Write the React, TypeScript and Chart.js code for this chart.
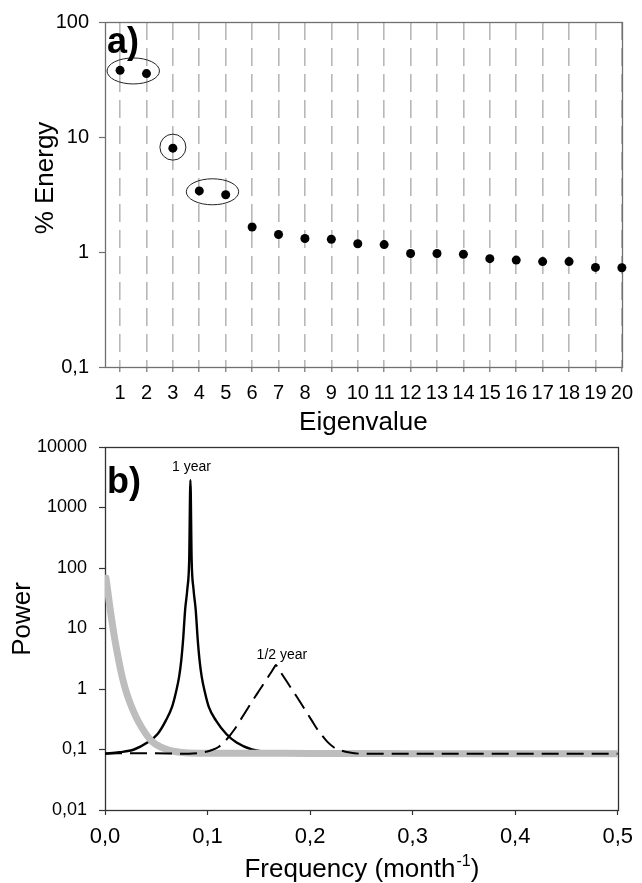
import React, { useEffect, useRef } from "react";
import { Chart, registerables } from "chart.js";

Chart.register(...registerables);

const FONT = "'Liberation Sans', Arial, Helvetica, sans-serif";

// ---------- panel a) ----------
const eigenvalueNumbers = [1, 2, 3, 4, 5, 6, 7, 8, 9, 10, 11, 12, 13, 14, 15, 16, 17, 18, 19, 20];
const energyPercent = [38, 35.6, 8.0, 3.4, 3.15, 1.65, 1.42, 1.31, 1.29, 1.18, 1.16, 0.97, 0.97, 0.955, 0.875, 0.85, 0.825, 0.825, 0.735, 0.73];
const energyTicks = [0.1, 1, 10, 100];
const circledGroups = [[1, 2], [3, 3], [4, 5]];

// ---------- panel b) ----------
const frequencyTicks = [0, 0.1, 0.2, 0.3, 0.4, 0.5];
const powerTicks = [0.01, 0.1, 1, 10, 100, 1000, 10000];

const annualFreq = [0, 0.014, 0.0283, 0.0413, 0.0513, 0.0593, 0.0653, 0.0693, 0.0723, 0.0744, 0.0763, 0.0781, 0.0803, 0.0821, 0.0833, 0.0845, 0.0863, 0.0885, 0.0903, 0.0922, 0.0943, 0.0973, 0.1013, 0.1083, 0.1183, 0.1283, 0.1433, 0.17, 0.25, 0.5];
const annualPower = [0.085, 0.09, 0.1, 0.13, 0.18, 0.3, 0.5, 0.9, 1.6, 3, 7, 20, 45, 135, 2850, 135, 45, 20, 7, 3, 1.6, 0.9, 0.5, 0.3, 0.18, 0.13, 0.1, 0.088, 0.086, 0.086];

const semiannualFreq = [0, 0.04, 0.0817, 0.0947, 0.1037, 0.1107, 0.1167, 0.1217, 0.1267, 0.1317, 0.1367, 0.1417, 0.1467, 0.1507, 0.1547, 0.1587, 0.1627, 0.1652, 0.1667, 0.1682, 0.1707, 0.1747, 0.1787, 0.1827, 0.1867, 0.1917, 0.1967, 0.2017, 0.2067, 0.2117, 0.2167, 0.2227, 0.2297, 0.2387, 0.2517, 0.35, 0.5];
const semiannualPower = [0.086, 0.087, 0.085, 0.089, 0.097, 0.11, 0.135, 0.17, 0.22, 0.3, 0.41, 0.56, 0.76, 0.96, 1.22, 1.55, 1.97, 2.3, 2.5, 2.3, 1.97, 1.55, 1.22, 0.96, 0.76, 0.56, 0.41, 0.3, 0.22, 0.17, 0.135, 0.11, 0.097, 0.089, 0.085, 0.085, 0.085];

const redNoiseFreq = [0.001, 0.003, 0.005, 0.0075, 0.01, 0.013, 0.016, 0.0195, 0.0235, 0.028, 0.033, 0.039, 0.046, 0.054, 0.063, 0.073, 0.09, 0.15, 0.2, 0.25, 0.3, 0.4, 0.5];
const redNoisePower = [68, 38, 21, 11, 6, 3.2, 1.8, 1.05, 0.65, 0.42, 0.28, 0.19, 0.135, 0.11, 0.097, 0.09, 0.087, 0.087, 0.086, 0.086, 0.085, 0.085, 0.085];

const peakLabels = [
  { text: "1 year", freq: 1 / 12, power: 2850, dx: 1, dy: -13 },
  { text: "1/2 year", freq: 1 / 6, power: 2.5, dx: 6, dy: -10 },
];

const commaNum = (v: number) => String(v).replace(".", ",");
const toPoints = (xs: number[], ys: number[]) => xs.map((x, i) => ({ x, y: ys[i] }));

function boxPlugin(color: string) {
  return {
    id: "box",
    beforeDatasetsDraw(chart: any) {
      const { ctx, chartArea: a } = chart;
      ctx.save();
      ctx.strokeStyle = color;
      ctx.lineWidth = 1.3;
      ctx.strokeRect(Math.round(a.left) + 0.5, Math.round(a.top) + 0.5, Math.round(a.right - a.left), Math.round(a.bottom - a.top));
      ctx.restore();
    },
  };
}

function rotatedText(ctx: CanvasRenderingContext2D, text: string, x: number, y: number, font: string) {
  ctx.save();
  ctx.translate(x, y);
  ctx.rotate(-Math.PI / 2);
  ctx.font = font;
  ctx.textAlign = "center";
  ctx.textBaseline = "alphabetic";
  ctx.fillStyle = "#000";
  ctx.fillText(text, 0, 0);
  ctx.restore();
}

export default function App() {
  const topRef = useRef<HTMLCanvasElement>(null);
  const botRef = useRef<HTMLCanvasElement>(null);

  useEffect(() => {
    const topDecor = {
      id: "topDecor",
      afterDatasetsDraw(chart: any) {
        const { ctx, scales } = chart;
        const xs = scales.x;
        const ys = scales.y;
        ctx.save();
        ctx.strokeStyle = "#222";
        ctx.lineWidth = 1;
        circledGroups.forEach(([from, to]) => {
          const i0 = eigenvalueNumbers.indexOf(from);
          const i1 = eigenvalueNumbers.indexOf(to);
          const x0 = xs.getPixelForValue(eigenvalueNumbers[i0]);
          const x1 = xs.getPixelForValue(eigenvalueNumbers[i1]);
          const y0 = ys.getPixelForValue(energyPercent[i0]);
          const y1 = ys.getPixelForValue(energyPercent[i1]);
          const cx = (x0 + x1) / 2;
          const cy = (y0 + y1) / 2 - 1;
          const rx = (x1 - x0) / 2 + 13;
          const ry = 13;
          ctx.beginPath();
          ctx.ellipse(cx, cy, rx, ry, 0, 0, Math.PI * 2);
          ctx.stroke();
        });
        ctx.restore();
      },
      afterDraw(chart: any) {
        const { ctx, chartArea: a } = chart;
        ctx.save();
        ctx.fillStyle = "#000";
        ctx.font = `bold 36px ${FONT}`;
        ctx.textAlign = "left";
        ctx.textBaseline = "alphabetic";
        ctx.fillText("a)", a.left + 2, 53);
        ctx.font = `26px ${FONT}`;
        ctx.textAlign = "center";
        ctx.fillText("Eigenvalue", (a.left + a.right) / 2, 430);
        ctx.restore();
        rotatedText(ctx, "% Energy", 53, 178, `26px ${FONT}`);
      },
    };

    const c1 = new Chart(topRef.current!, {
      type: "scatter",
      data: {
        datasets: [
          {
            data: toPoints(eigenvalueNumbers, energyPercent),
            showLine: false,
            pointRadius: 4.5,
            pointHoverRadius: 4.5,
            pointBackgroundColor: "#000",
            pointBorderWidth: 0,
            clip: false as any,
          },
        ],
      },
      options: {
        animation: false,
        responsive: false,
        events: [],
        layout: { padding: { top: 19, right: 19, left: 0, bottom: 0 } },
        plugins: { legend: { display: false }, tooltip: { enabled: false } },
        scales: {
          x: {
            type: "linear",
            min: 0.43,
            max: 20,
            afterBuildTicks: (s: any) => {
              s.ticks = eigenvalueNumbers.map((v) => ({ value: v }));
            },
            afterFit: (s: any) => {
              s.height = 83;
            },
            ticks: {
              autoSkip: false,
              maxRotation: 0,
              padding: 9,
              color: "#000",
              font: { family: FONT, size: 20 },
              callback: (v: any) => String(v),
            },
            grid: {
              color: "#b8b8b8",
              lineWidth: 1.6,
              drawTicks: true,
              tickLength: 5,
              tickColor: "#707070",
              tickWidth: 1.2,
              tickBorderDash: [],
            },
            border: { display: false, dash: [18, 8] },
          },
          y: {
            type: "logarithmic",
            min: 0.1,
            max: 100,
            afterBuildTicks: (s: any) => {
              s.ticks = energyTicks.map((v) => ({ value: v }));
            },
            afterFit: (s: any) => {
              s.width = 105;
            },
            ticks: {
              padding: 10,
              color: "#000",
              font: { family: FONT, size: 20 },
              callback: (v: any) => commaNum(Number(v)),
            },
            grid: {
              drawOnChartArea: false,
              drawTicks: true,
              tickLength: 6,
              tickColor: "#707070",
              tickWidth: 1.2,
            },
            border: { display: false },
          },
        },
      },
      plugins: [boxPlugin("#707070"), topDecor],
    });

    const botDecor = {
      id: "botDecor",
      afterDraw(chart: any) {
        const { ctx, chartArea: a, scales } = chart;
        ctx.save();
        ctx.fillStyle = "#000";
        ctx.font = `bold 36px ${FONT}`;
        ctx.textAlign = "left";
        ctx.textBaseline = "alphabetic";
        ctx.fillText("b)", a.left + 2, 73);

        ctx.font = `14px ${FONT}`;
        ctx.textAlign = "center";
        ctx.textBaseline = "middle";
        peakLabels.forEach((p) => {
          const x = scales.x.getPixelForValue(p.freq);
          const y = scales.y.getPixelForValue(p.power);
          ctx.fillText(p.text, x + p.dx, y + p.dy);
        });

        // x-axis title with superscript
        const baseY = 457;
        const cx = (a.left + a.right) / 2;
        const t1 = "Frequency (month";
        const sup = "-1";
        const t3 = ")";
        ctx.textBaseline = "alphabetic";
        ctx.textAlign = "left";
        ctx.font = `26px ${FONT}`;
        const w1 = ctx.measureText(t1).width;
        const w3 = ctx.measureText(t3).width;
        ctx.font = `16px ${FONT}`;
        const w2 = ctx.measureText(sup).width;
        const x0 = cx - (w1 + w2 + w3) / 2;
        ctx.font = `26px ${FONT}`;
        ctx.fillText(t1, x0, baseY);
        ctx.font = `16px ${FONT}`;
        ctx.fillText(sup, x0 + w1 + 1, baseY - 11);
        ctx.font = `26px ${FONT}`;
        ctx.fillText(t3, x0 + w1 + w2 + 1, baseY);
        ctx.restore();
        rotatedText(ctx, "Power", 30, 199, `26px ${FONT}`);
      },
    };

    const c2 = new Chart(botRef.current!, {
      type: "scatter",
      data: {
        datasets: [
          {
            data: toPoints(semiannualFreq, semiannualPower),
            showLine: true,
            borderColor: "#000",
            borderWidth: 2,
            borderDash: [17, 8],
            pointRadius: 0,
            cubicInterpolationMode: "monotone",
          },
          {
            data: toPoints(redNoiseFreq, redNoisePower),
            showLine: true,
            borderColor: "#bdbdbd",
            borderWidth: 7,
            borderCapStyle: "round",
            borderJoinStyle: "round",
            pointRadius: 0,
            cubicInterpolationMode: "monotone",
          },
          {
            data: toPoints(annualFreq, annualPower),
            showLine: true,
            borderColor: "#000",
            borderWidth: 2.4,
            pointRadius: 0,
            cubicInterpolationMode: "monotone",
          },
        ] as any,
      },
      options: {
        animation: false,
        responsive: false,
        events: [],
        layout: { padding: { top: 27, right: 19, left: 0, bottom: 0 } },
        plugins: { legend: { display: false }, tooltip: { enabled: false } },
        scales: {
          x: {
            type: "linear",
            min: 0,
            max: 0.5,
            afterBuildTicks: (s: any) => {
              s.ticks = frequencyTicks.map((v) => ({ value: v }));
            },
            afterFit: (s: any) => {
              s.height = 73;
            },
            ticks: {
              autoSkip: false,
              maxRotation: 0,
              padding: 9,
              color: "#000",
              font: { family: FONT, size: 22 },
              callback: (v: any) => Number(v).toFixed(1).replace(".", ","),
            },
            grid: {
              drawOnChartArea: false,
              drawTicks: true,
              tickLength: 5,
              tickColor: "#333",
              tickWidth: 1.2,
            },
            border: { display: false },
          },
          y: {
            type: "logarithmic",
            min: 0.01,
            max: 10000,
            afterBuildTicks: (s: any) => {
              s.ticks = powerTicks.map((v) => ({ value: v }));
            },
            afterFit: (s: any) => {
              s.width = 105;
            },
            ticks: {
              padding: 12,
              color: "#000",
              font: { family: FONT, size: 18 },
              callback: (v: any) => commaNum(Number(v)),
            },
            grid: {
              drawOnChartArea: false,
              drawTicks: true,
              tickLength: 6,
              tickColor: "#333",
              tickWidth: 1.2,
            },
            border: { display: false },
          },
        },
      },
      plugins: [boxPlugin("#333"), botDecor],
    });

    return () => {
      c1.destroy();
      c2.destroy();
    };
  }, []);

  return (
    <div style={{ position: "absolute", left: 0, top: 0, width: 642, height: 883, background: "#fff" }}>
      <canvas ref={topRef} width={642} height={450} style={{ position: "absolute", left: 0, top: 0 }} />
      <canvas ref={botRef} width={642} height={463} style={{ position: "absolute", left: 0, top: 420 }} />
    </div>
  );
}
